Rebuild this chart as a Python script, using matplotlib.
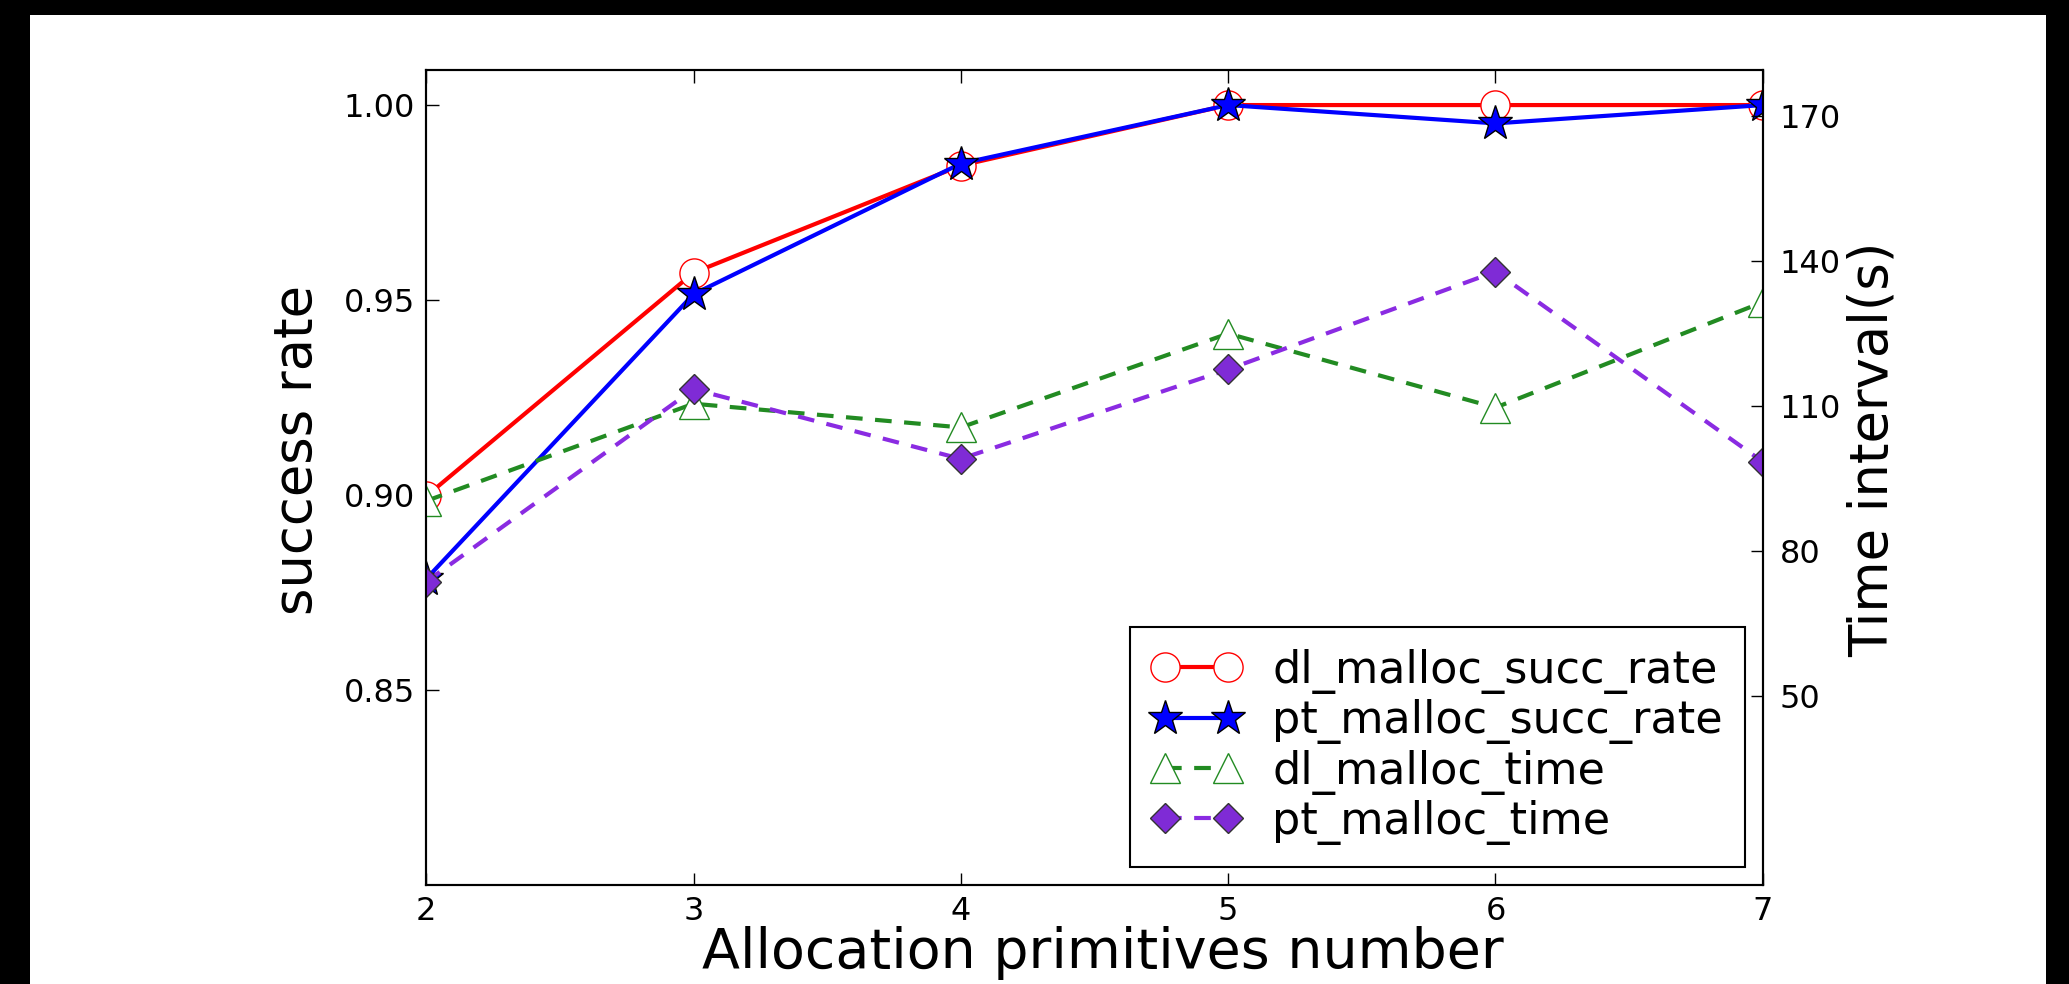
import matplotlib
matplotlib.use("Agg")
import matplotlib.pyplot as plt
from matplotlib.patches import Rectangle

# data
primitives = [2, 3, 4, 5, 6, 7]
dl_succ = [0.8997, 0.957, 0.9845, 1.0, 1.0, 1.0]
pt_succ = [0.8785, 0.9515, 0.985, 1.0, 0.9953, 1.0]
dl_time = [90.4, 110.5, 105.6, 125.0, 109.7, 131.5]
pt_time = [73.7, 113.5, 99.1, 117.6, 137.8, 98.5]

rate_ticks = [0.85, 0.90, 0.95, 1.00]
time_ticks = [50, 80, 110, 140, 170]

plt.rcParams['font.family'] = ['DejaVu Sans']

fig = plt.figure(figsize=(20.69, 9.84), dpi=100)
fig.patch.set_facecolor('white')

# black scan borders of the original picture
for x0, y0, w, h in [(0, 0, 30 / 2069, 1), (0, 1 - 15 / 984, 1, 15 / 984),
                     (2046 / 2069, 0, 23 / 2069, 1)]:
    fig.patches.append(Rectangle((x0, y0), w, h, transform=fig.transFigure,
                                 facecolor='black', edgecolor='none'))

ax = fig.add_axes([0.206, 0.1006, 0.646, 0.8283])
ax2 = ax.twinx()

l1, = ax.plot(primitives, dl_succ, color='red', lw=3, marker='o', ms=21,
              mfc='white', mec='red', mew=1, label='dl_malloc_succ_rate')
l2, = ax.plot(primitives, pt_succ, color='blue', lw=3, marker='*', ms=26,
              mfc='blue', mec='black', mew=1, label='pt_malloc_succ_rate')
l3, = ax2.plot(primitives, dl_time, color='#228b22', lw=3, ls=(0, (4, 3)),
               marker='^', ms=21, mfc='white', mec='#228b22', mew=1,
               label='dl_malloc_time')
l4, = ax2.plot(primitives, pt_time, color='#8a2be2', lw=3, ls=(0, (4, 3)),
               marker='D', ms=15, mfc='#7f2bd6', mec='#333333', mew=1,
               label='pt_malloc_time')

ax.set_xlim(2, 7)
ax.set_ylim(0.80, 1.009)
ax2.set_ylim(11, 179.5)
ax.set_xticks(primitives)
ax.set_yticks(rate_ticks)
ax.set_yticklabels(['%.2f' % t for t in rate_ticks])
ax2.set_yticks(time_ticks)

ax.tick_params(axis='both', direction='in', length=9, width=1, labelsize=23,
               pad=8, top=True, right=False)
ax2.tick_params(axis='y', direction='in', length=9, width=1, labelsize=23,
                pad=12)
for a in (ax, ax2):
    for s in a.spines.values():
        s.set_linewidth(1.5)

ax.set_xlabel('Allocation primitives number', fontsize=40)
ax.set_ylabel('success rate', fontsize=38)
ax2.set_ylabel('Time interval(s)', fontsize=38)
ax.xaxis.set_label_coords(0.506, -0.05)
ax.yaxis.set_label_coords(-0.096, 0.534)
ax2.yaxis.set_label_coords(1.082, 0.534)
ax.yaxis.label.set_va('center')
ax2.yaxis.label.set_va('center')

leg = ax2.legend(handles=[l1, l2, l3, l4], loc='lower right', fontsize=32,
                 numpoints=2, handlelength=2.0, handletextpad=0.7,
                 labelspacing=0.12, borderpad=0.5, borderaxespad=0.4,
                 fancybox=False, framealpha=1)
leg.get_frame().set_edgecolor('black')
leg.get_frame().set_linewidth(1.5)

fig.savefig('out.png', dpi=100, facecolor='white')
